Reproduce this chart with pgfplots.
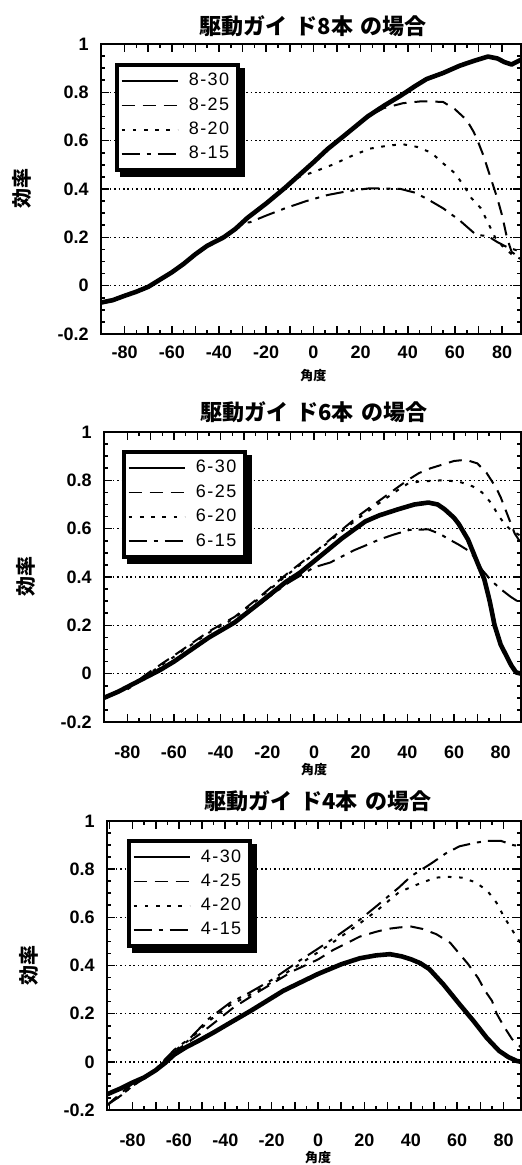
\documentclass[border=0pt]{standalone}
\usepackage{fontspec}
\setmainfont{Liberation Sans}
\newfontfamily\jp{Noto Sans CJK JP}
\usepackage{pgfplots}
\pgfplotsset{compat=1.18}

\pgfplotsset{
  base/.style={
    scale only axis, height=145pt,
    ymin=-0.2, ymax=1, xmin=-90,
    axis line style={line width=1.2pt},
    xtick={-80,-60,...,80}, minor x tick num=3,
    extra x ticks={-90,-70,-50,-30,-10,10,30,50,70},
    extra x tick labels={}, extra x tick style={grid=none},
    ytick={-0.2,0,0.2,0.4,0.6,0.8,1}, minor y tick num=3,
    yticklabels={-0.2,0,0.2,0.4,0.6,0.8,1},
    tick align=inside,
    major tick length=4pt, minor tick length=2pt,
    every tick/.style={black, line width=0.8pt},
    ymajorgrids, grid style={black, line width=0.8pt, dash pattern=on 0.8pt off 1.4pt},
    /pgf/number format/assume math mode=true,
    ticklabel style={font=\fontsize{9}{9}\selectfont\bfseries},
    yticklabel style={anchor=east, inner sep=0pt, xshift=-6pt},
    xticklabel style={anchor=center, inner sep=0pt},
    legend style={anchor=north west, draw=black, line width=2pt, fill=white,
      inner xsep=2pt, inner ysep=2pt, row sep=0pt,
      font=\fontsize{9}{10}\selectfont\addfontfeature{LetterSpace=8},
      nodes={inner sep=2.2pt},
      /tikz/every odd column/.append style={column sep=3pt}},
    legend image code/.code={\draw[##1] (0pt,0pt) -- (28pt,0pt);},
    legend image post style={line width=0.8pt},
    legend cell align=left,
    title style={font=\jp\bfseries\fontsize{11}{11}\selectfont, anchor=center},
    every axis y label/.style={at={(axis description cs:-0.188,0.5)}, anchor=center, rotate=90,
      font=\jp\bfseries\fontsize{10}{10}\selectfont},
    xlabel style={font=\jp\bfseries\fontsize{6.5}{6.5}\selectfont},
  },
  s30/.style={black, line width=2.3pt, line join=round},
  s25/.style={black, line width=1pt, dash pattern=on 6.5pt off 4pt},
  s20/.style={black, line width=1pt, dash pattern=on 1.8pt off 3.8pt},
  s15/.style={black, line width=1pt, dash pattern=on 9pt off 3.5pt on 2pt off 3.5pt},
}
\newcommand{\legshadow}[1]{%
  \fill[black] ([yshift=-2.5pt]#1.north east) rectangle ([xshift=2.5pt,yshift=-2.5pt]#1.south east);
  \fill[black] ([xshift=2.5pt]#1.south west) rectangle ([xshift=2.5pt,yshift=-2.5pt]#1.south east);}

\begin{document}
\begin{tikzpicture}[x=1pt,y=1pt]
% ---------------- Panel 1 ----------------
\begin{axis}[base, at={(50.5pt,415.5pt)}, anchor=south west,
  width=210pt, xmax=88,
  xticklabel style={yshift=-9pt},
  legend style={at={(0.033,0.935)}, name=leg1},
  title={駆動ガイ\hspace{0.35em}ド8本\hspace{0.35em}の場合},
  title style={at={(axis cs:0,1)}, yshift=3pt},
  ylabel={効率},
  xlabel={角度}, xlabel style={at={(axis cs:0,-0.2)}, anchor=center, yshift=-21pt},
]
\addplot[s30] coordinates {(-90,-0.07) (-85,-0.06) (-80,-0.042) (-75,-0.025) (-70,-0.005) (-65,0.025) (-60,0.055) (-55,0.09) (-50,0.13) (-45,0.165) (-38,0.2) (-33,0.235) (-28,0.28) (-20,0.34) (-12,0.405) (0,0.51) (6,0.565) (13,0.62) (23,0.70) (30,0.745) (37,0.786) (43,0.825) (48,0.855) (55,0.88) (62,0.91) (68,0.93) (74,0.948) (78,0.94) (81,0.925) (84,0.915) (86,0.925) (88,0.935)};
\addlegendentry{8-30}
\addplot[s25] coordinates {(-90,-0.07) (-85,-0.06) (-80,-0.042) (-75,-0.025) (-70,-0.005) (-65,0.025) (-60,0.055) (-55,0.09) (-50,0.13) (-45,0.165) (-38,0.2) (-33,0.235) (-28,0.28) (-20,0.34) (-12,0.405) (0,0.51) (6,0.565) (13,0.62) (23,0.70) (30,0.735) (38,0.755) (45,0.762) (50,0.762) (55,0.76) (60,0.73) (65,0.685) (68,0.635) (70,0.59) (72,0.54) (74,0.48) (76,0.42) (78,0.36) (80,0.29) (82,0.2) (84,0.14) (86,0.125) (88,0.12)};
\addlegendentry{8-25}
\addplot[s20] coordinates {(-90,-0.07) (-85,-0.06) (-80,-0.042) (-75,-0.025) (-70,-0.005) (-65,0.025) (-60,0.055) (-55,0.09) (-50,0.13) (-45,0.165) (-38,0.2) (-33,0.235) (-28,0.28) (-20,0.34) (-12,0.405) (-6,0.45) (0,0.47) (8,0.5) (17,0.54) (24,0.567) (32,0.58) (38,0.585) (44,0.574) (50,0.55) (55,0.506) (60,0.465) (64,0.41) (67,0.362) (71,0.32) (74,0.26) (77,0.2) (80,0.165) (84,0.13) (88,0.11)};
\addlegendentry{8-20}
\addplot[s15] coordinates {(-90,-0.07) (-85,-0.06) (-80,-0.042) (-75,-0.025) (-70,-0.005) (-65,0.025) (-60,0.055) (-55,0.09) (-50,0.13) (-45,0.165) (-38,0.2) (-33,0.235) (-29,0.262) (-27,0.262) (-20,0.29) (-12,0.32) (-3,0.35) (6,0.375) (14,0.39) (24,0.403) (37,0.4) (43,0.385) (48,0.36) (55,0.32) (62,0.27) (69,0.21) (74,0.205) (78,0.18) (82,0.16) (88,0.14)};
\addlegendentry{8-15}
\end{axis}
\legshadow{leg1}
% ---------------- Panel 2 ----------------
\begin{axis}[base, at={(52pt,221.5pt)}, anchor=south west,
  width=208.5pt, xmax=88.7,
  xticklabel style={yshift=-15pt},
  legend style={at={(0.043,0.938)}, name=leg2},
  title={駆動ガイ\hspace{0.35em}ド6本\hspace{0.35em}の場合},
  title style={at={(axis cs:0,1)}, yshift=4pt},
  ylabel={効率},
  xlabel={角度}, xlabel style={at={(axis cs:0,-0.2)}, anchor=center, yshift=-24pt},
]
\addplot[s30] coordinates {(-90,-0.1) (-84,-0.075) (-77,-0.04) (-70,-0.005) (-66,0.015) (-60,0.05) (-54,0.09) (-45,0.15) (-34,0.212) (-23,0.295) (-12,0.38) (-6,0.418) (0,0.465) (12,0.56) (22,0.63) (28,0.655) (36,0.68) (43,0.7) (49,0.708) (53,0.7) (56,0.68) (60,0.645) (62,0.62) (66,0.555) (70,0.46) (73,0.39) (75.3,0.3) (77.4,0.2) (80,0.12) (84.5,0.035) (86.6,0.005) (88.7,0)};
\addlegendentry{6-30}
\addplot[s25] coordinates {(-90,-0.1) (-80,-0.06) (-70,0.01) (-60,0.075) (-45,0.175) (-34,0.235) (-23,0.32) (-12,0.41) (0,0.5) (10,0.58) (20,0.66) (30,0.73) (40,0.8) (45,0.83) (50,0.85) (55,0.865) (60,0.88) (65,0.885) (70,0.87) (74,0.83) (78,0.77) (80,0.73) (82,0.68) (84,0.63) (86,0.58) (88.7,0.54)};
\addlegendentry{6-25}
\addplot[s20] coordinates {(-90,-0.1) (-80,-0.06) (-70,0.005) (-60,0.07) (-45,0.17) (-34,0.23) (-23,0.315) (-12,0.405) (0,0.495) (10,0.575) (20,0.65) (30,0.72) (36,0.76) (40,0.785) (45,0.795) (55,0.8) (62,0.795) (68,0.775) (72,0.75) (76,0.705) (79,0.655) (82,0.615) (85,0.59) (88.7,0.57)};
\addlegendentry{6-20}
\addplot[s15] coordinates {(-90,-0.1) (-80,-0.065) (-70,0) (-60,0.055) (-45,0.15) (-34,0.21) (-23,0.29) (-12,0.37) (0,0.44) (7,0.46) (12,0.485) (17,0.51) (22,0.53) (28,0.555) (34,0.575) (41,0.595) (49,0.597) (54,0.578) (58,0.555) (62,0.534) (66,0.51) (69,0.48) (72,0.43) (76,0.385) (80,0.35) (84,0.32) (88.7,0.29)};
\addlegendentry{6-15}
\end{axis}
\legshadow{leg2}
% ---------------- Panel 3 ----------------
\begin{axis}[base, at={(53.5pt,27.5pt)}, anchor=south west,
  width=207pt, height=144.5pt, xmin=-91, xmax=87.5,
  xticklabel style={yshift=-15pt},
  legend style={at={(0.048,0.9375)}, name=leg3},
  title={駆動ガイ\hspace{0.35em}ド4本\hspace{0.35em}の場合},
  title style={at={(axis cs:0,1)}, yshift=4pt},
  ylabel={効率},
  xlabel={角度}, xlabel style={at={(axis cs:0,-0.2)}, anchor=center, yshift=-24pt},
]
\addplot[s30] coordinates {(-91,-0.135) (-85,-0.11) (-80,-0.086) (-75,-0.065) (-70,-0.035) (-66,-0.005) (-62,0.03) (-57,0.06) (-51,0.09) (-45,0.122) (-39,0.156) (-29,0.212) (-15,0.295) (0,0.365) (10,0.405) (18,0.43) (25,0.442) (31,0.447) (36,0.438) (40,0.426) (44,0.41) (48,0.385) (54,0.322) (61,0.239) (67,0.17) (72.7,0.1) (78,0.046) (82,0.02) (85.6,0.004) (87.5,0)};
\addlegendentry{4-30}
\addplot[s25] coordinates {(-91,-0.18) (-85,-0.13) (-80,-0.09) (-75,-0.065) (-70,-0.03) (-66,0.005) (-62,0.04) (-57,0.075) (-51,0.115) (-45,0.16) (-36.5,0.225) (-25,0.295) (-10.6,0.378) (0,0.425) (6.6,0.465) (18,0.52) (25,0.54) (30,0.552) (35,0.558) (40,0.562) (45,0.552) (51,0.53) (57,0.494) (61,0.448) (64.6,0.407) (69,0.348) (72,0.295) (75,0.253) (77,0.2) (80,0.149) (83.6,0.095) (87.5,0.06)};
\addlegendentry{4-25}
\addplot[s20] coordinates {(-91,-0.18) (-85,-0.14) (-80,-0.1) (-75,-0.07) (-70,-0.035) (-66,0.005) (-62,0.045) (-55,0.095) (-47,0.17) (-38,0.235) (-30,0.275) (-20,0.33) (-8,0.405) (0,0.455) (7,0.5) (18,0.575) (25,0.625) (30,0.665) (35,0.705) (40,0.725) (45,0.745) (51,0.765) (56,0.768) (62,0.765) (68,0.745) (73,0.71) (77,0.66) (80,0.605) (83.5,0.55) (87.5,0.49)};
\addlegendentry{4-20}
\addplot[s15] coordinates {(-91,-0.18) (-85,-0.14) (-80,-0.1) (-75,-0.07) (-70,-0.03) (-66,0.01) (-62,0.05) (-55,0.1) (-47,0.18) (-38,0.245) (-30,0.285) (-20,0.34) (-8,0.42) (0,0.47) (7,0.515) (18,0.59) (25,0.645) (30,0.685) (35,0.725) (40,0.77) (49,0.825) (55,0.865) (61,0.895) (68,0.91) (73,0.917) (79,0.917) (84,0.9) (87.5,0.895)};
\addlegendentry{4-15}
\end{axis}
\legshadow{leg3}
\pgfresetboundingbox
\path[use as bounding box] (0,0) rectangle (260.5,582.5);
\end{tikzpicture}
\end{document}
